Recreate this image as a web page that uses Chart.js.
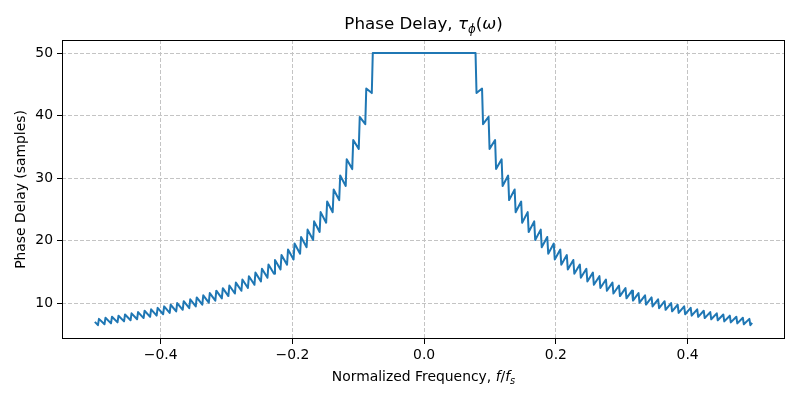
<!DOCTYPE html>
<html>
<head>
<meta charset="utf-8">
<script src="https://cdn.jsdelivr.net/npm/chart.js@4"></script>
<style>
  html, body { margin: 0; padding: 0; background: #fff; }
</style>
</head>
<body>
<canvas id="phaseChart" width="800" height="400"></canvas>
<script>
var freqLeft = [-0.5000, -0.4953, -0.4938, -0.4854, -0.4839, -0.4755, -0.4740, -0.4656, -0.4641, -0.4557,
  -0.4542, -0.4458, -0.4443, -0.4359, -0.4344, -0.4260, -0.4245, -0.4161, -0.4146, -0.4062,
  -0.4047, -0.3963, -0.3948, -0.3864, -0.3849, -0.3765, -0.3750, -0.3666, -0.3651, -0.3567,
  -0.3552, -0.3468, -0.3453, -0.3369, -0.3354, -0.3270, -0.3255, -0.3171, -0.3156, -0.3072,
  -0.3057, -0.2973, -0.2958, -0.2874, -0.2859, -0.2775, -0.2760, -0.2676, -0.2661, -0.2577,
  -0.2562, -0.2478, -0.2463, -0.2379, -0.2364, -0.2280, -0.2265, -0.2181, -0.2166, -0.2082,
  -0.2067, -0.1983, -0.1968, -0.1884, -0.1869, -0.1785, -0.1770, -0.1686, -0.1671, -0.1587,
  -0.1572, -0.1488, -0.1473, -0.1389, -0.1374, -0.1290, -0.1275, -0.1191, -0.1176, -0.1092,
  -0.1077, -0.0993, -0.0978, -0.0894, -0.0879, -0.0795, -0.0780];
var delayLeft = [7.00, 6.46, 7.47, 6.60, 7.64, 6.75, 7.81, 6.91, 7.98, 7.07,
  8.17, 7.24, 8.36, 7.41, 8.56, 7.60, 8.77, 7.79, 9.00, 7.99,
  9.23, 8.21, 9.47, 8.43, 9.73, 8.67, 10.00, 8.92, 10.29, 9.18,
  10.59, 9.46, 10.90, 9.75, 11.24, 10.06, 11.60, 10.39, 11.98, 10.75,
  12.38, 11.12, 12.81, 11.52, 13.27, 11.96, 13.77, 12.42, 14.30, 12.92,
  14.87, 13.46, 15.49, 14.04, 16.16, 14.68, 16.89, 15.37, 17.68, 16.13,
  18.55, 16.97, 19.51, 17.90, 20.57, 18.93, 21.75, 20.08, 23.07, 21.37,
  24.55, 22.85, 26.24, 24.53, 28.17, 26.47, 30.39, 28.74, 32.99, 31.43,
  36.07, 34.66, 39.78, 38.62, 44.31, 43.59, 50.00];

// right stopband, from the passband edge out to the last sample
var freqRight = [0.0780, 0.0795, 0.0879, 0.0894, 0.0978, 0.0993, 0.1077, 0.1092, 0.1176, 0.1191,
  0.1275, 0.1290, 0.1374, 0.1389, 0.1473, 0.1488, 0.1572, 0.1587, 0.1671, 0.1686,
  0.1770, 0.1785, 0.1869, 0.1884, 0.1968, 0.1983, 0.2067, 0.2082, 0.2166, 0.2181,
  0.2265, 0.2280, 0.2364, 0.2379, 0.2463, 0.2478, 0.2562, 0.2577, 0.2661, 0.2676,
  0.2760, 0.2775, 0.2859, 0.2874, 0.2958, 0.2973, 0.3057, 0.3072, 0.3156, 0.3171,
  0.3255, 0.3270, 0.3354, 0.3369, 0.3453, 0.3468, 0.3552, 0.3567, 0.3651, 0.3666,
  0.3750, 0.3765, 0.3849, 0.3864, 0.3948, 0.3963, 0.4047, 0.4062, 0.4146, 0.4161,
  0.4245, 0.4260, 0.4344, 0.4359, 0.4443, 0.4458, 0.4542, 0.4557, 0.4641, 0.4656,
  0.4740, 0.4755, 0.4839, 0.4854, 0.4938, 0.4953, 0.4980];
var delayRight = [50.00, 43.59, 44.31, 38.62, 39.78, 34.66, 36.07, 31.43, 32.99, 28.74,
  30.39, 26.47, 28.17, 24.53, 26.24, 22.85, 24.55, 21.37, 23.07, 20.08,
  21.75, 18.93, 20.57, 17.90, 19.51, 16.97, 18.55, 16.13, 17.68, 15.37,
  16.89, 14.68, 16.16, 14.04, 15.49, 13.46, 14.87, 12.92, 14.30, 12.42,
  13.77, 11.96, 13.27, 11.52, 12.81, 11.12, 12.38, 10.75, 11.98, 10.39,
  11.60, 10.06, 11.24, 9.75, 10.90, 9.46, 10.59, 9.18, 10.29, 8.92,
  10.00, 8.67, 9.73, 8.43, 9.47, 8.21, 9.23, 7.99, 9.00, 7.79,
  8.77, 7.60, 8.56, 7.41, 8.36, 7.24, 8.17, 7.07, 7.98, 6.91,
  7.81, 6.75, 7.64, 6.60, 7.47, 6.46, 6.83];

var xTickValues = [-0.4, -0.2, 0.0, 0.2, 0.4];
var yTickValues = [10, 20, 30, 40, 50];

var FONT = "'DejaVu Sans', sans-serif";

// the curve runs left stopband -> flat passband -> right stopband
var freq = freqLeft.concat(freqRight);
var delay = delayLeft.concat(delayRight);
var points = freq.map(function (f, i) { return { x: f, y: delay[i] }; });

// draws a label made of plain / italic / subscript pieces, centred on cx
function drawMathText(ctx, parts, cx, baseline, size) {
    function fontFor(p) {
        if (p[1] === 'n') return size + 'px ' + FONT;
        if (p[1] === 'i') return 'italic ' + size + 'px ' + FONT;
        return 'italic ' + (size * 0.7) + 'px ' + FONT;
    }
    var total = 0;
    parts.forEach(function (p) { ctx.font = fontFor(p); total += ctx.measureText(p[0]).width; });
    var x = cx - total / 2;
    ctx.textAlign = 'left';
    ctx.textBaseline = 'alphabetic';
    ctx.fillStyle = '#000';
    parts.forEach(function (p) {
        ctx.font = fontFor(p);
        var dy = p[1] === 's' ? size * 0.22 : 0;
        ctx.fillText(p[0], x, baseline + dy);
        x += ctx.measureText(p[0]).width;
    });
}

var mplDecor = {
    id: 'mplDecor',
    afterDraw: function (chart) {
        var ctx = chart.ctx;
        var a = chart.chartArea;
        ctx.save();
        ctx.strokeStyle = '#000';
        ctx.lineWidth = 1;
        ctx.strokeRect(Math.round(a.left) + 0.5, Math.round(a.top) + 0.5,
            Math.round(a.right - a.left) - 1, Math.round(a.bottom - a.top) - 1);
        var cx = (a.left + a.right) / 2;
        drawMathText(ctx, [['Phase Delay, ', 'n'], ['τ', 'i'], ['ϕ', 's'], ['(', 'n'], ['ω', 'i'], [')', 'n']],
            cx, 29, 16.7);
        drawMathText(ctx, [['Normalized Frequency, ', 'n'], ['f', 'i'], ['/', 'n'], ['f', 'i'], ['s', 's']],
            cx, 381, 13.9);
        ctx.restore();
    }
};

document.addEventListener('DOMContentLoaded', function () {
    Chart.defaults.color = '#000';
    Chart.defaults.font.family = FONT;

    var ctx = document.getElementById('phaseChart').getContext('2d');
    var phaseChart = new Chart(ctx, {
        type: 'scatter',
        data: {
            datasets: [{
                label: 'Phase Delay',
                data: points,
                showLine: true,
                borderColor: '#1f77b4',
                borderWidth: 2,
                borderJoinStyle: 'round',
                pointRadius: 0,
                tension: 0
            }]
        },
        options: {
            responsive: false,
            animation: false,
            layout: { padding: { top: 40, right: 15, left: 0, bottom: 0 } },
            plugins: {
                legend: { display: false },
                tooltip: { enabled: false }
            },
            scales: {
                x: {
                    type: 'linear',
                    min: -0.5499,
                    max: 0.5479,
                    afterBuildTicks: function (axis) {
                        axis.ticks = xTickValues.map(function (v) { return { value: v }; });
                    },
                    afterFit: function (axis) { axis.height = 61; },
                    ticks: {
                        font: { size: 13.9 },
                        padding: 3,
                        maxRotation: 0,
                        callback: function (v) {
                            return (v < 0 ? '\u2212' : '') + Math.abs(v).toFixed(1);
                        }
                    },
                    grid: { color: '#c4c4c4', lineWidth: 1, tickColor: '#000', tickLength: 5, tickWidth: 1 },
                    border: { display: false, dash: [4, 2] }
                },
                y: {
                    min: 4.25,
                    max: 52.08,
                    afterBuildTicks: function (axis) {
                        axis.ticks = yTickValues.map(function (v) { return { value: v }; });
                    },
                    afterFit: function (axis) { axis.width = 62; },
                    ticks: { font: { size: 13.9 }, padding: 4 },
                    grid: { color: '#c4c4c4', lineWidth: 1, tickColor: '#000', tickLength: 5, tickWidth: 1 },
                    border: { display: false, dash: [4, 2] },
                    title: {
                        display: true,
                        text: 'Phase Delay (samples)',
                        font: { size: 13.9 },
                        padding: { top: 13, bottom: 0 }
                    }
                }
            }
        },
        plugins: [mplDecor]
    });
});
</script>
</body>
</html>
